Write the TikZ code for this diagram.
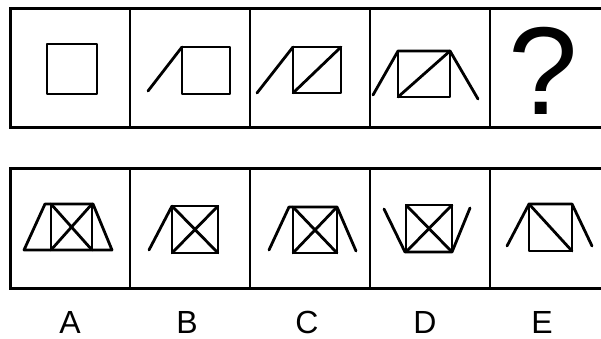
\documentclass[tikz,border=0pt]{standalone}
\usepackage{fontspec}
\setmainfont{Liberation Sans}
\begin{document}
\begin{tikzpicture}[x=1pt,y=-1pt,
  frame/.style={line width=3pt},
  divider/.style={line width=2.6pt},
  fig/.style={line width=2.8pt,line cap=round,line join=round},
  lbl/.style={font=\fontsize{32}{32}\selectfont,inner sep=0pt,anchor=base}]
\useasboundingbox (0,0) rectangle (601,339);
\clip (0,0) rectangle (601,339);
\fill[white] (0,0) rectangle (601,339);
% frames
\draw[frame] (10,9) rectangle (612,128);
\draw[frame] (10,168) rectangle (612,288);
\foreach \x in {130,250,370,490}{
  \draw[divider] (\x,9) -- (\x,128);
  \draw[divider] (\x,168) -- (\x,288);
}
% top row
\draw[fig] (47,44) rectangle (97,94);
\draw[fig] (182,47) rectangle (230,94);
\draw[fig] (148,91) -- (182,47);
\draw[fig] (293,47) rectangle (341,93);
\draw[fig] (257,93) -- (293,47);
\draw[fig] (293,93) -- (341,47);
\draw[fig] (373,95) -- (398,51) -- (450,51) -- (478,99);
\draw[fig] (398,51) rectangle (450,97);
\draw[fig] (398,97) -- (450,51);
\node[font=\fontsize{125}{125}\selectfont,inner sep=0pt,anchor=base] (q) at (543,115) {?};
% bottom row
% A
\draw[fig] (51,204) rectangle (92,250);
\draw[fig] (51,204) -- (92,250) (92,204) -- (51,250);
\draw[fig] (45,204) -- (93,204) -- (112,250) -- (24,250) -- cycle;
% B
\draw[fig] (172,206) rectangle (218,253);
\draw[fig] (172,206) -- (218,253) (218,206) -- (172,253);
\draw[fig] (172,206) -- (149,250);
% C
\draw[fig] (293,207) rectangle (337,253);
\draw[fig] (293,207) -- (337,253) (337,207) -- (293,253);
\draw[fig] (269,250) -- (289,207) -- (337,207) -- (356,251);
% D
\draw[fig] (406,205) rectangle (452,252);
\draw[fig] (406,205) -- (452,252) (452,205) -- (406,252);
\draw[fig] (384,209) -- (405,252) -- (452,252) -- (470,208);
% E
\draw[fig] (529,204) rectangle (572,251);
\draw[fig] (529,204) -- (572,251);
\draw[fig] (507,246) -- (529,204) -- (572,204) -- (592,246);
% labels
\node[lbl] (la) at (70,333) {A};
\node[lbl] (lb) at (187,333) {B};
\node[lbl] (lc) at (307,333) {C};
\node[lbl] (ld) at (425,333) {D};
\node[lbl] (le) at (542,333) {E};
\end{tikzpicture}
\end{document}
